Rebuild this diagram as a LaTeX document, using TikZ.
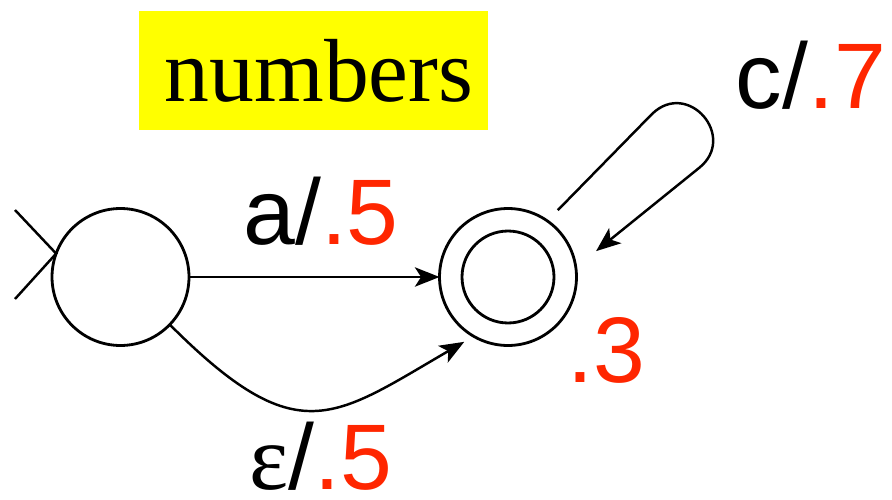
\documentclass[tikz,border=0pt]{standalone}
\usepackage{fontspec}
\setmainfont{Liberation Serif}
\newfontfamily\labfont{Liberation Sans}
\usetikzlibrary{arrows.meta}
\definecolor{wred}{RGB}{255,38,0}
\definecolor{wyellow}{RGB}{255,255,0}

\begin{document}
\begin{tikzpicture}[
    x=0.02cm, y=-0.02cm,
    state/.style={
        draw,
        circle,
        line width=1.6pt,
        minimum size=2.74cm,
        inner sep=0pt,
        outer sep=0pt
    },
    acc/.style={state, minimum size=1.84cm},
    trans/.style={line width=1.4pt, -{Stealth[length=14pt, width=11pt, inset=3.5pt]}},
    wt/.style={
        font=\labfont\fontsize{53}{60}\selectfont,
        anchor=base,
        inner sep=0pt
    },
    banner/.style={
        fill=wyellow,
        minimum width=6.98cm,
        minimum height=2.38cm,
        inner sep=0pt,
        font=\fontsize{51}{60}\selectfont
    }
]
\useasboundingbox (0,0) rectangle (892,500);

% ---------------- Nodes ----------------
\node[banner] (title) at (313.5,70.5) {\hspace*{0.22cm}numbers};

\node[state] (q0)   at (120.5,277) {};
\node[state] (q1)   at (508,277) {};
\node[acc]   (q1in) at (508,277) {};

\coordinate (in1) at (15,210);
\coordinate (in2) at (15,299);

% ---------------- Weights ----------------
\node[wt] (wa)   at (321,244) {a/\textcolor{wred}{.5}};
\node[wt] (weps) at (320.5,489) {{\rmfamily ε}/\textcolor{wred}{.5}};
\node[wt] (wc)   at (811,109) {c/\textcolor{wred}{.7}};
\node[wt] (wfin) at (606,382) {\textcolor{wred}{.3}};

% ---------------- Transitions ----------------
\draw[line width=1.4pt] (in1) -- (q0.160) -- (in2);

\draw[trans] (q0) -- (q1);

\draw[trans, shorten >=0.22cm] (q0.-44)
    .. controls (298,453) and (333,418) .. (q1.240);

\draw[trans, shorten <=0.3cm, shorten >=0.52cm] (q1.55) -- (652,114)
    .. controls (688,79) and (738,137) .. (699,168) -- (q1.8);

\end{tikzpicture}
\end{document}
